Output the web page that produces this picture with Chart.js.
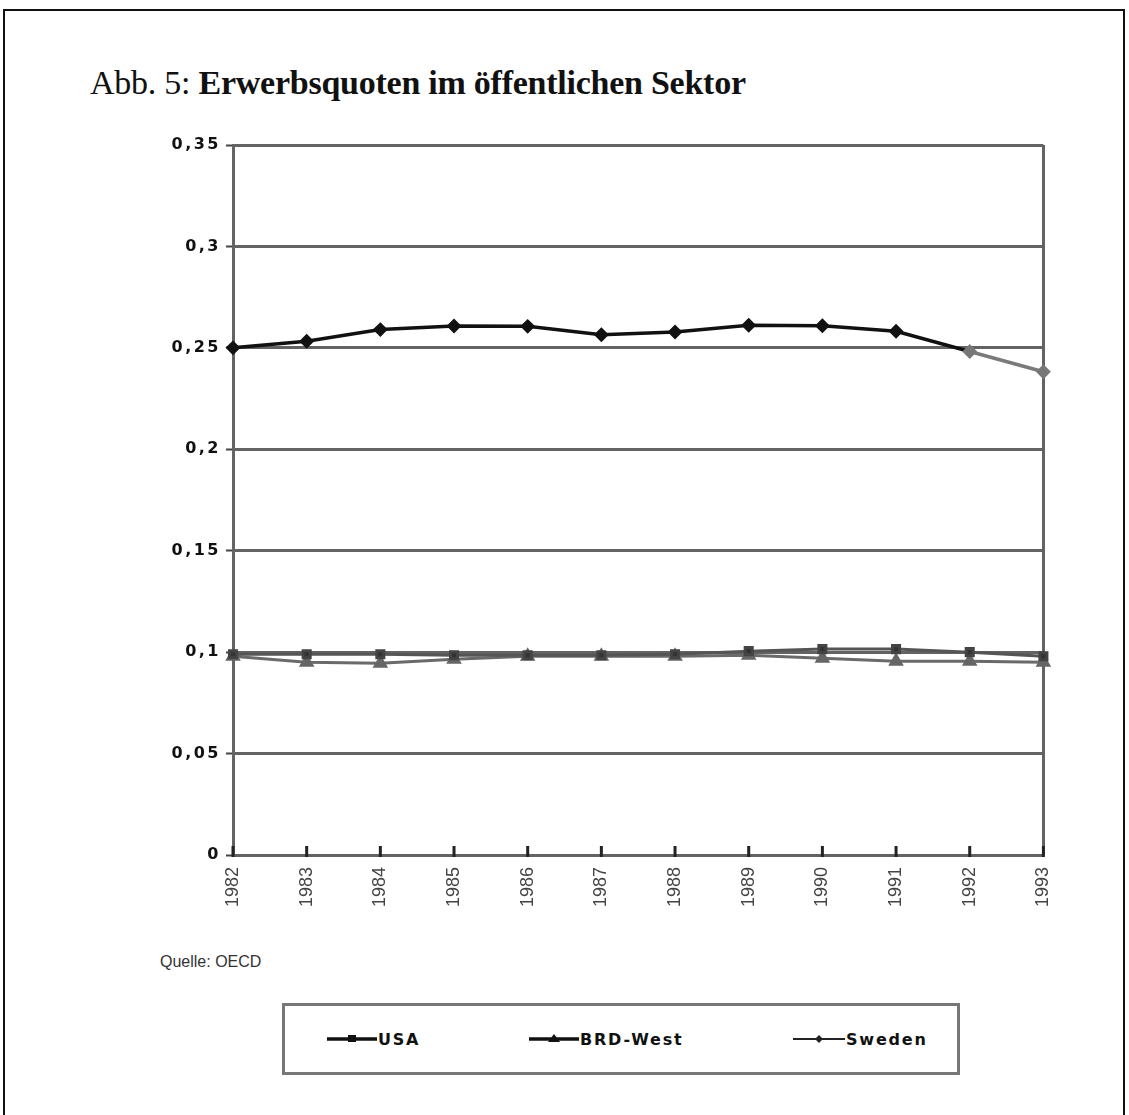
<!DOCTYPE html>
<html lang="de">
<head>
<meta charset="utf-8">
<title>Erwerbsquoten im öffentlichen Sektor</title>
<script src="https://cdn.jsdelivr.net/npm/chart.js@4.4.1/dist/chart.umd.min.js"></script>
<style>
  html, body { margin: 0; padding: 0; background: #fff; }
  body { width: 1129px; height: 1115px; position: relative; overflow: hidden; }
  #frame { position: absolute; left: 3px; top: 9px; width: 1118px; height: 1200px;
           border: 2px solid #111; border-bottom: none; }
  #title { position: absolute; left: 90px; top: 64px; font-family: "Liberation Serif", serif;
           font-size: 34px; color: #111; white-space: nowrap; letter-spacing: -0.25px; }
  #title b { font-weight: bold; }
  #chartBox { position: absolute; left: 150px; top: 130px; width: 927px; height: 785px; }
  #source { position: absolute; left: 160px; top: 953px; font-family: "Liberation Sans", Arial, sans-serif;
            font-size: 16px; color: #333; }
  #legend { position: absolute; left: 282px; top: 1003px; width: 672px; height: 66px;
            border: 3px solid #777; }
  .item { position: absolute; top: 0; height: 66px; display: flex; align-items: center; }
  .item canvas { display: block; }
  .item span { font-family: "DejaVu Sans", sans-serif; font-weight: bold; font-size: 16px;
               letter-spacing: 1.8px; color: #111; margin-left: 1px; }
</style>
</head>
<body>
<div id="frame"></div>
<div id="title">Abb. 5: <b>Erwerbsquoten im öffentlichen Sektor</b></div>
<div id="chartBox"><canvas id="chart" width="927" height="785"></canvas></div>
<div id="source">Quelle: OECD</div>
<div id="legend"></div>

<script>
// Jahre (Kategorien der x-Achse)
const years = ['1982', '1983', '1984', '1985', '1986', '1987', '1988', '1989', '1990', '1991', '1992', '1993'];

// Erwerbsquoten im öffentlichen Sektor je Land
const usa     = [0.099, 0.099, 0.099, 0.0985, 0.0985, 0.0985, 0.099, 0.1005, 0.1015, 0.1015, 0.100, 0.098];
const brdWest = [0.098, 0.095, 0.0945, 0.0965, 0.098, 0.098, 0.098, 0.0985, 0.097, 0.0955, 0.0955, 0.095];
const sweden  = [0.250, 0.2533, 0.259, 0.2608, 0.2606, 0.2565, 0.2578, 0.2611, 0.2609, 0.2582, 0.2482, 0.2382];

// Teilstriche der y-Achse
const yTicks = [0, 0.05, 0.1, 0.15, 0.2, 0.25, 0.3, 0.35];

const fmt = v => String(Math.round(v * 100) / 100).replace('.', ',');

const GRID = '#636363';

// Kreuzende Teilstriche auf der x-Achse und Sperrung der y-Beschriftung
const axisDecor = {
  id: 'axisDecor',
  beforeDraw(chart) {
    const s = chart.scales.y;
    if (!s.__spaced) {
      const orig = s.drawLabels;
      s.drawLabels = function (area) {
        const c = this.ctx;
        c.save();
        c.letterSpacing = '2.5px';
        orig.call(this, area);
        c.restore();
      };
      s.__spaced = true;
    }
  },
  afterDatasetsDraw(chart) {
    const { ctx, chartArea, scales } = chart;
    const x = scales.x;
    ctx.save();
    ctx.strokeStyle = '#222';
    ctx.lineWidth = 3;
    x.ticks.forEach((t, i) => {
      const px = x.getPixelForTick(i);
      ctx.beginPath();
      ctx.moveTo(px, chartArea.bottom - 9);
      ctx.lineTo(px, chartArea.bottom + 2);
      ctx.stroke();
    });
    ctx.restore();
  }
};

const datasets = [
  {
    label: 'USA', data: usa,
    borderColor: '#555', backgroundColor: '#333', borderWidth: 3,
    pointStyle: 'rect', pointRadius: 5, pointBorderColor: '#444', pointBackgroundColor: '#333',
    order: 2
  },
  {
    label: 'BRD-West', data: brdWest,
    borderColor: '#6a6a6a', backgroundColor: '#666', borderWidth: 3,
    pointStyle: 'triangle', pointRadius: 6, pointBorderColor: '#666', pointBackgroundColor: '#666',
    order: 3
  },
  {
    label: 'Sweden', data: sweden,
    borderColor: '#111', backgroundColor: '#111', borderWidth: 3.5,
    pointStyle: 'rectRot', pointRadius: 5,
    pointBackgroundColor: ctx => ctx.dataIndex >= 10 ? '#777' : '#111',
    pointBorderColor: ctx => ctx.dataIndex >= 10 ? '#777' : '#111',
    segment: { borderColor: ctx => ctx.p0DataIndex >= 10 ? '#7a7a7a' : undefined },
    order: 1
  }
];

const chart = new Chart(document.getElementById('chart'), {
  type: 'line',
  data: { labels: years, datasets },
  options: {
    responsive: false,
    animation: false,
    layout: { padding: { left: 0, right: 15, top: 15, bottom: 0 } },
    plugins: { legend: { display: false }, tooltip: { enabled: false } },
    elements: { line: { tension: 0 } },
    scales: {
      x: {
        offset: false,
        afterFit: s => { s.height = 60; },
        grid: {
          drawOnChartArea: true, drawTicks: false, lineWidth: 3,
          color: ctx => ctx.index === years.length - 1 ? GRID : 'rgba(0,0,0,0)'
        },
        border: { display: false },
        ticks: {
          autoSkip: false, maxRotation: 90, minRotation: 90, padding: 12,
          color: '#444', font: { family: 'Liberation Sans', size: 18 }
        }
      },
      y: {
        min: 0, max: 0.35,
        afterFit: s => { s.width = 83; },
        afterBuildTicks: s => { s.ticks = yTicks.map(v => ({ value: v })); },
        grid: { color: GRID, lineWidth: 3, tickLength: 7, tickColor: '#444', tickWidth: 2 },
        border: { display: true, color: GRID, width: 3 },
        ticks: {
          padding: 5, color: '#111',
          font: { family: 'DejaVu Sans', size: 16, weight: 'bold' },
          callback: v => fmt(v)
        }
      }
    }
  },
  plugins: [axisDecor]
});

// Legende im Kasten unter dem Diagramm
const legendPos = [{ left: 42, w: 50 }, { left: 244, w: 50 }, { left: 508, w: 52 }];
const legend = document.getElementById('legend');
chart.data.datasets.forEach((ds, i) => {
  const item = document.createElement('div');
  item.className = 'item';
  item.style.left = legendPos[i].left + 'px';
  const c = document.createElement('canvas');
  const w = legendPos[i].w, h = 16;
  c.width = w; c.height = h;
  const g = c.getContext('2d');
  const col = i === 2 ? '#222' : '#111';
  g.strokeStyle = col; g.fillStyle = col;
  g.lineWidth = i === 2 ? 2 : 3.5;
  g.beginPath(); g.moveTo(0, h / 2); g.lineTo(w, h / 2); g.stroke();
  const cx = w / 2, cy = h / 2;
  g.beginPath();
  if (ds.pointStyle === 'rect') { g.rect(cx - 4, cy - 4, 8, 7); }
  else if (ds.pointStyle === 'triangle') { g.moveTo(cx, cy - 5); g.lineTo(cx + 6, cy + 3); g.lineTo(cx - 6, cy + 3); g.closePath(); }
  else { g.moveTo(cx, cy - 4); g.lineTo(cx + 4, cy); g.lineTo(cx, cy + 4); g.lineTo(cx - 4, cy); g.closePath(); }
  g.fill();
  const t = document.createElement('span');
  t.textContent = ds.label;
  item.appendChild(c); item.appendChild(t);
  legend.appendChild(item);
});
</script>
</body>
</html>
